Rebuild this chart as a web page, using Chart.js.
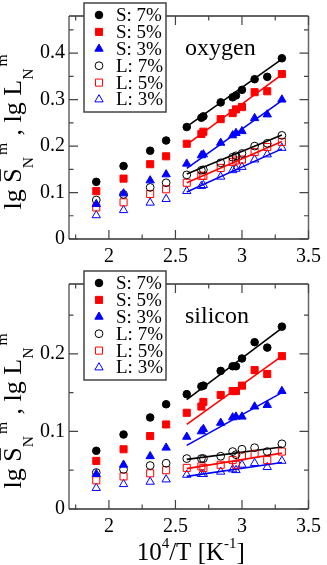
<!DOCTYPE html>
<html>
<head>
<meta charset="utf-8">
<script src="https://cdn.jsdelivr.net/npm/chart.js@4.4.0/dist/chart.umd.min.js"></script>
<style>
html, body { margin: 0; padding: 0; background: #fff; }
canvas { display: block; }
</style>
</head>
<body>
<canvas id="oxyChart" width="327" height="268"></canvas>
<canvas id="silChart" width="327" height="297"></canvas>
<script>
// 10^4/T values shared by every series
const invT = [1.905, 2.11, 2.31, 2.43, 2.585, 2.695, 2.71, 2.84, 2.93, 2.955, 3.0, 3.095, 3.19, 3.3];
const fitX = [2.585, 3.3];
const seriesLabels = ["S: 7%", "S: 5%", "S: 3%", "L: 7%", "L: 5%", "L: 3%"];

const xTicks = [2, 2.5, 3, 3.5];
const xTickLabels = ["2", "2.5", "3", "3.5"];
const xMinor = [1.75, 2.25, 2.75, 3.25];
const oxyYTicks = [0, 0.1, 0.2, 0.3, 0.4];
const oxyYTickLabels = ["0", "0.1", "0.2", "0.3", "0.4"];
const oxyYMinor = [0.05, 0.15, 0.25, 0.35, 0.45];
const silYTicks = [0, 0.1, 0.2];
const silYTickLabels = ["0", "0.1", "0.2"];
const silYMinor = [0.05, 0.15, 0.25];

// oxygen panel
const oxyS7 = [0.123, 0.157, 0.190, 0.212, 0.241, 0.261, 0.264, 0.294, 0.305, 0.309, 0.321, 0.344, 0.349, 0.389];
const oxyS5 = [0.103, 0.130, 0.161, 0.178, 0.205, 0.226, 0.231, 0.258, 0.271, 0.279, 0.284, 0.316, 0.318, 0.355];
const oxyS3 = [0.075, 0.098, 0.126, 0.139, 0.162, 0.180, 0.182, 0.207, 0.223, 0.228, 0.232, 0.260, 0.268, 0.300];
const oxyL7 = [0.084, 0.096, 0.111, 0.121, 0.138, 0.148, 0.149, 0.164, 0.176, 0.179, 0.184, 0.200, 0.206, 0.223];
const oxyL5 = [0.068, 0.079, 0.097, 0.107, 0.121, 0.136, 0.136, 0.153, 0.166, 0.169, 0.171, 0.187, 0.198, 0.209];
const oxyL3 = [0.051, 0.062, 0.078, 0.086, 0.103, 0.114, 0.116, 0.134, 0.148, 0.151, 0.155, 0.171, 0.182, 0.196];
const oxyFits = [[0.242, 0.387], [0.203, 0.354], [0.152, 0.298], [0.140, 0.224], [0.121, 0.210], [0.101, 0.194]];

// silicon panel
const silS7 = [0.075, 0.096, 0.118, 0.135, 0.148, 0.158, 0.159, 0.178, 0.184, 0.184, 0.194, 0.215, 0.208, 0.235];
const silS5 = [0.062, 0.077, 0.094, 0.109, 0.124, 0.132, 0.138, 0.147, 0.152, 0.152, 0.159, 0.179, 0.174, 0.197];
const silS3 = [0.045, 0.057, 0.068, 0.079, 0.093, 0.100, 0.103, 0.111, 0.118, 0.119, 0.119, 0.132, 0.134, 0.152];
const silL7 = [0.047, 0.051, 0.056, 0.059, 0.065, 0.065, 0.065, 0.068, 0.074, 0.070, 0.077, 0.079, 0.074, 0.084];
const silL5 = [0.037, 0.042, 0.046, 0.050, 0.053, 0.055, 0.053, 0.057, 0.063, 0.057, 0.068, 0.071, 0.063, 0.074];
const silL3 = [0.027, 0.032, 0.035, 0.038, 0.044, 0.045, 0.045, 0.048, 0.051, 0.050, 0.057, 0.059, 0.054, 0.062];
const silFits = [[0.141, 0.233], [0.109, 0.197], [0.082, 0.150], [0.064, 0.080], [0.052, 0.072], [0.042, 0.060]];

const serif = "'Liberation Serif', 'DejaVu Serif', serif";
const colors = ["#000000", "#ff0000", "#0000ff", "#000000", "#ff0000", "#0000ff"];
const styles = [
    { pointStyle: "circle", radius: 3.8, filled: true },
    { pointStyle: "rect", radius: 5, filled: true },
    { pointStyle: "triangle", radius: 4.8, filled: true },
    { pointStyle: "circle", radius: 3.9, filled: false },
    { pointStyle: "rect", radius: 5, filled: false },
    { pointStyle: "triangle", radius: 4.8, filled: false },
];

function toPoints(ys) {
    return ys.map((y, i) => ({ x: invT[i], y: y }));
}

function buildDatasets(series, fits) {
    const sets = [];
    series.forEach((ys, i) => {
        const st = styles[i];
        sets.push({
            label: seriesLabels[i],
            data: toPoints(ys),
            showLine: false,
            pointStyle: st.pointStyle,
            pointRadius: st.radius,
            pointBorderWidth: 1,
            pointBorderColor: colors[i],
            pointBackgroundColor: st.filled ? colors[i] : "rgba(0,0,0,0)",
        });
    });
    fits.forEach((f, i) => {
        sets.push({
            label: "fit " + seriesLabels[i],
            data: [{ x: fitX[0], y: f[0] }, { x: fitX[1], y: f[1] }],
            showLine: true,
            borderColor: colors[i],
            borderWidth: 1.6,
            pointRadius: 0,
        });
    });
    return sets;
}

// draws a run of text pieces (main / sub / sup) along the current x axis
function drawRich(ctx, parts, f) {
    let x = 0;
    parts.forEach(p => {
        const s = p.kind === "main" ? f.size : f.size * f.scale;
        const dy = p.kind === "sub" ? f.sub : (p.kind === "sup" ? f.sup : 0);
        ctx.font = s + "px " + serif;
        if (f.draw) ctx.fillText(p.t, x, dy);
        const w = ctx.measureText(p.t).width;
        if (p.over && f.draw) {
            ctx.lineWidth = 1.3;
            ctx.beginPath();
            ctx.moveTo(x + 1.5, -f.size * 0.8);
            ctx.lineTo(x + w - 1, -f.size * 0.8);
            ctx.stroke();
        }
        x += w + (p.gap || 0);
    });
    return x;
}

const yLabelParts = [
    { t: "lg ", kind: "main" },
    { t: "S", kind: "main", over: true },
    { t: "N", kind: "sub", gap: 2 },
    { t: "m", kind: "sup", gap: 1 },
    { t: " , lg L", kind: "main" },
    { t: "N", kind: "sub", gap: 2 },
    { t: "m", kind: "sup" },
];
const xTitleParts = [
    { t: "10", kind: "main" },
    { t: "4", kind: "sup" },
    { t: "/T [K", kind: "main" },
    { t: "-1", kind: "sup" },
    { t: "]", kind: "main" },
];
const yLabelFont = { size: 26, scale: 0.6, sub: 12, sup: -14 };
const xTitleFont = { size: 25, scale: 0.6, sub: 8, sup: -12 };

const framePlugin = {
    id: "frame",
    afterDraw(chart, args, o) {
        const ctx = chart.ctx;
        const a = chart.chartArea;
        const xs = chart.scales.x, ys = chart.scales.y;
        ctx.save();
        ctx.lineWidth = 1.5;
        ctx.strokeStyle = "#666";
        ctx.beginPath();
        ctx.moveTo(a.left, a.top); ctx.lineTo(a.left, a.bottom);
        ctx.moveTo(a.right, a.top); ctx.lineTo(a.right, a.bottom);
        ctx.stroke();
        ctx.strokeStyle = "#333";
        ctx.beginPath();
        ctx.moveTo(a.left, a.top); ctx.lineTo(a.right, a.top);
        ctx.moveTo(a.left, a.bottom); ctx.lineTo(a.right, a.bottom);
        ctx.stroke();
        ctx.lineWidth = 1.2;
        ctx.strokeStyle = "#444";
        ctx.beginPath();
        const tickX = (vals, len) => {
            vals.forEach(v => {
                const px = xs.getPixelForValue(v);
                ctx.moveTo(px, a.bottom); ctx.lineTo(px, a.bottom - len);
                ctx.moveTo(px, a.top); ctx.lineTo(px, a.top + len);
            });
        };
        const tickY = (vals, len) => {
            vals.forEach(v => {
                const py = ys.getPixelForValue(v);
                ctx.moveTo(a.left, py); ctx.lineTo(a.left + len, py);
                ctx.moveTo(a.right, py); ctx.lineTo(a.right - len, py);
            });
        };
        tickX(xTicks, 9); tickX(xMinor, 4.5);
        tickY(o.yTicks, 9); tickY(o.yMinor, 4.5);
        ctx.stroke();

        // legend box
        const lx = 84, ly = a.top - 13, lw = 82, lh = 109;
        ctx.fillStyle = "#fff";
        ctx.fillRect(lx, ly, lw, lh);
        ctx.strokeStyle = "#444";
        ctx.lineWidth = 1.5;
        ctx.strokeRect(lx, ly, lw, lh);
        seriesLabels.forEach((lab, i) => {
            const ry = a.top - 1 + i * 16.9;
            const st = styles[i];
            ctx.fillStyle = st.filled ? colors[i] : "rgba(0,0,0,0)";
            ctx.strokeStyle = colors[i];
            ctx.lineWidth = 1;
            Chart.helpers.drawPoint(ctx, { pointStyle: st.pointStyle, radius: st.radius, rotation: 0, borderWidth: 1 }, 99, ry);
            ctx.fillStyle = "#000";
            ctx.font = "19px " + serif;
            ctx.textBaseline = "middle";
            ctx.textAlign = "left";
            ctx.fillText(lab, 116, ry + 1);
        });

        // panel name
        ctx.fillStyle = "#000";
        ctx.textBaseline = "alphabetic";
        ctx.font = "24px " + serif;
        ctx.fillText(o.name, 185, a.top + 39);

        // rotated y label, centred on o.yLabelMid
        const wy = drawRich(ctx, yLabelParts, Object.assign({ draw: false }, yLabelFont));
        ctx.save();
        ctx.translate(21, o.yLabelMid + wy / 2);
        ctx.rotate(-Math.PI / 2);
        ctx.strokeStyle = "#000";
        drawRich(ctx, yLabelParts, Object.assign({ draw: true }, yLabelFont));
        ctx.restore();

        // x axis title
        if (o.xTitle) {
            const wx = drawRich(ctx, xTitleParts, Object.assign({ draw: false }, xTitleFont));
            ctx.save();
            ctx.translate((a.left + a.right) / 2 + 2 - wx / 2, o.xTitleY);
            drawRich(ctx, xTitleParts, Object.assign({ draw: true }, xTitleFont));
            ctx.restore();
        }
        ctx.restore();
    }
};

function makeChart(id, series, fits, yMax, yTicks, yTickLabels, yMinor, padTop, xHeight, extra) {
    return new Chart(document.getElementById(id), {
        type: "scatter",
        data: { datasets: buildDatasets(series, fits) },
        options: {
            responsive: false,
            animation: false,
            devicePixelRatio: 1,
            layout: { padding: { left: 0, right: 14, top: padTop, bottom: 0 } },
            scales: {
                x: {
                    type: "linear",
                    min: 1.7,
                    max: 3.5,
                    grid: { display: false, drawTicks: false },
                    border: { display: false },
                    afterBuildTicks: s => { s.ticks = xTicks.map(v => ({ value: v })); },
                    afterFit: s => { s.height = xHeight; },
                    ticks: {
                        color: "#000", padding: 6, maxRotation: 0, autoSkip: false,
                        font: { family: serif, size: 20 },
                        callback: (v, i) => xTickLabels[i],
                    },
                },
                y: {
                    type: "linear",
                    min: 0,
                    max: yMax,
                    grid: { display: false, drawTicks: false },
                    border: { display: false },
                    afterBuildTicks: s => { s.ticks = yTicks.map(v => ({ value: v })); },
                    afterFit: s => { s.width = 69; },
                    ticks: {
                        color: "#000", padding: 4, autoSkip: false,
                        font: { family: serif, size: 20 },
                        callback: (v, i) => yTickLabels[i],
                    },
                },
            },
            plugins: {
                legend: { display: false },
                tooltip: { enabled: false },
                frame: Object.assign({ yTicks: yTicks, yMinor: yMinor }, extra),
            },
        },
        plugins: [framePlugin],
    });
}

makeChart("oxyChart", [oxyS7, oxyS5, oxyS3, oxyL7, oxyL5, oxyL3], oxyFits, 0.48,
    oxyYTicks, oxyYTickLabels, oxyYMinor, 14, 29,
    { name: "oxygen", yLabelMid: 132, xTitle: false });
makeChart("silChart", [silS7, silS5, silS3, silL7, silL5, silL3], silFits, 0.29,
    silYTicks, silYTickLabels, silYMinor, 15, 56,
    { name: "silicon", yLabelMid: 143, xTitle: true, xTitleY: 292 });
</script>
</body>
</html>
